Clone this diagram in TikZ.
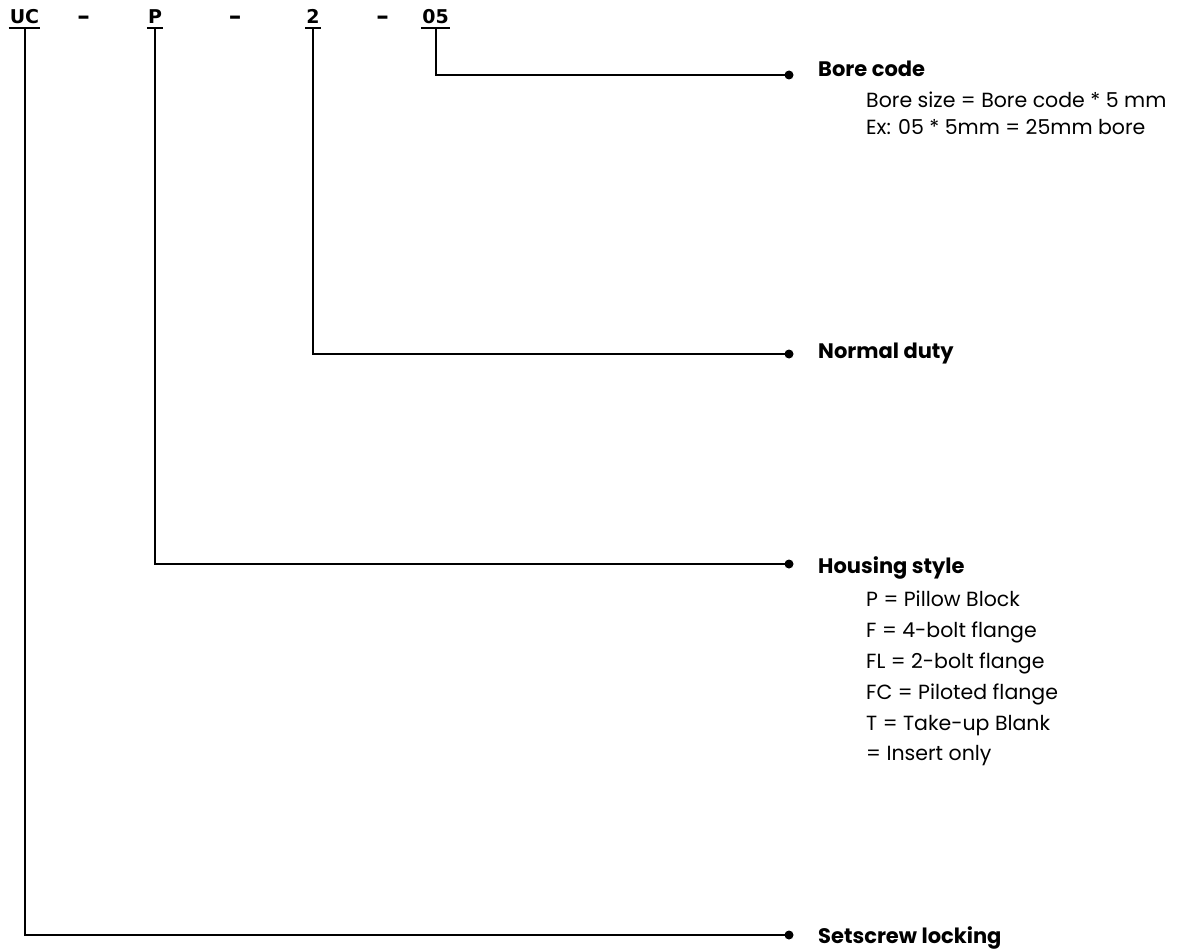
\documentclass[tikz,border=0pt]{standalone}
\usepackage{fontspec}
\setmainfont{Poppins}
\newfontfamily\codefont{DejaVu Sans}
\begin{document}
\begin{tikzpicture}[x=1pt,y=-1pt,
  code/.style={font=\codefont\bfseries\fontsize{19}{22}\selectfont, inner sep=0pt, anchor=base},
  sep/.style={font=\codefont\bfseries\fontsize{25}{28}\selectfont, inner sep=0pt, anchor=base},
  conn/.style={line width=2pt, black},
  uline/.style={line width=1.6pt, black},
  dot/.style={circle, fill=black, inner sep=0pt, minimum size=9pt},
  head/.style={font=\bfseries\fontsize{21}{24}\selectfont, inner sep=0pt, anchor=base west},
  sub/.style={font=\fontsize{20.5}{24}\selectfont, inner sep=0pt, anchor=base west}]
\useasboundingbox (0,0) rectangle (1184,950);

% model code letters
\node[code] (uc) at (24.5,24) {UC};
\node[sep] (dasha) at (83.5,25) {–};
\node[code] (p) at (155,24) {P};
\node[sep] (dashb) at (235,25) {–};
\node[code] (two) at (313,24) {2};
\node[sep] (dashc) at (382.5,25) {–};
\node[code] (ofive) at (435.5,24) {05};

% underlines
\foreach \n in {uc,p,two,ofive}
  \draw[uline] ([xshift=-1pt,yshift=-4pt]\n.base west) -- ([xshift=1pt,yshift=-4pt]\n.base east);

% end dots
\node[dot] (dbore) at (789,75) {};
\node[dot] (dduty) at (789,354) {};
\node[dot] (dhouse) at (789,564) {};
\node[dot] (dlock) at (789,935) {};

% leaders
\draw[conn] ([yshift=-4pt]ofive.base) |- (dbore.center);
\draw[conn] ([yshift=-4pt]two.base) |- (dduty.center);
\draw[conn] ([yshift=-4pt]p.base) |- (dhouse.center);
\draw[conn] ([yshift=-4pt]uc.base) |- (dlock.center);

% descriptions
\node[head] (lbore) at (818,77) {Bore code};
\node[sub] (lbore1) at (866,107) {Bore size = Bore code * 5 mm};
\node[sub] (lbore2) at (866,135) {Ex: 05 * 5mm = 25mm bore};

\node[head] (lduty) at (818,358) {Normal duty};

\node[head] (lhouse) at (818,573) {Housing style};
\node[sub] (lh1) at (866,606) {P = Pillow Block};
\node[sub] (lh2) at (866,637) {F = 4-bolt flange};
\node[sub] (lh3) at (866,668) {FL = 2-bolt flange};
\node[sub] (lh4) at (866,699) {FC = Piloted flange};
\node[sub] (lh5) at (866,730) {T = Take-up Blank};
\node[sub] (lh6) at (866,760) {= Insert only};

\node[head] (llock) at (818,943) {Setscrew locking};
\end{tikzpicture}
\end{document}
